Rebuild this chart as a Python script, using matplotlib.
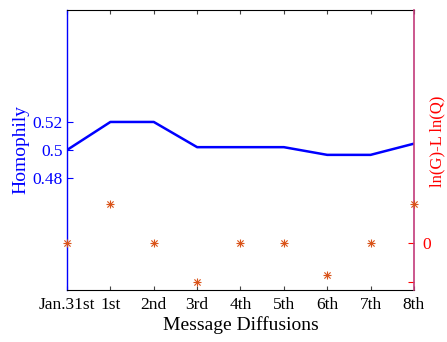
import matplotlib
matplotlib.use("Agg")
import matplotlib.pyplot as plt

categories = ["Jan.31st", "1st", "2nd", "3rd", "4th", "5th", "6th", "7th", "8th"]
homophily = [0.500, 0.520, 0.520, 0.502, 0.502, 0.502, 0.4965, 0.4965, 0.5045]
ln_ratio = [0.0, 1.0, 0.0, -1.0, 0.0, 0.0, -0.82, 0.0, 1.0]
left_ticks = [0.48, 0.50, 0.52]
left_ticklabels = ["0.48", "0.5", "0.52"]
right_ticks = [-1.0, 0.0]
right_ticklabels = ["", "0"]

plt.rcParams['font.family'] = ['Liberation Serif', 'DejaVu Serif']
plt.rcParams['mathtext.fontset'] = 'custom'
plt.rcParams['mathtext.rm'] = 'Liberation Serif'
plt.rcParams['mathtext.it'] = 'Liberation Serif:italic'

fig = plt.figure(figsize=(4.47, 3.42), dpi=100)
ax = fig.add_axes([0.150, 0.152, 0.776, 0.819])
x = list(range(len(categories)))

blue = (0, 0, 1)
red = (1, 0, 0)
orange = "#D95319"
purple = "#C23B7A"

ax.plot(x, homophily, color=blue, lw=1.8, zorder=3)
ax.set_xlim(0, len(categories) - 1)
ax.set_ylim(0.4, 0.6)
ax.set_yticks(left_ticks)
ax.set_yticklabels(left_ticklabels)
ax.set_xticks(x)
ax.set_xticklabels(categories)
ax.tick_params(axis='y', colors=blue, direction='in', length=4, labelsize=12.5, right=True, pad=3)
ax.tick_params(axis='x', direction='in', length=3, labelsize=12.5, top=True, colors='#444444', labelcolor='black', pad=5)
ax.set_ylabel("Homophily", color=blue, fontsize=14, labelpad=2)
ax.set_xlabel("Message Diffusions", fontsize=14, labelpad=2)
ax.spines['left'].set_color(blue)
ax.spines['left'].set_linewidth(1.0)
ax.spines['right'].set_visible(False)
for s in ['top', 'bottom']:
    ax.spines[s].set_color('black')

ax2 = ax.twinx()
ax2.scatter(x, ln_ratio, marker='+', s=30, color=orange, linewidths=0.8, zorder=4, clip_on=False)
ax2.scatter(x, ln_ratio, marker='x', s=20, color=orange, linewidths=0.8, zorder=4, clip_on=False)
ax2.set_ylim(-1.2, 6.0)
ax2.set_yticks(right_ticks)
ax2.set_yticklabels(right_ticklabels)
ax2.tick_params(axis='y', colors=red, direction='in', length=4, labelsize=12.5, pad=6)
for s in ['left', 'top', 'bottom']:
    ax2.spines[s].set_visible(False)
ax2.spines['right'].set_color(purple)
ax2.spines['right'].set_linewidth(1.2)
ax2.set_ylabel("ln(G)-L ln(Q)", color=red, fontsize=12, labelpad=4)
ax2.yaxis.set_label_coords(1.045, 0.53)

fig.savefig("out.png", dpi=100)
